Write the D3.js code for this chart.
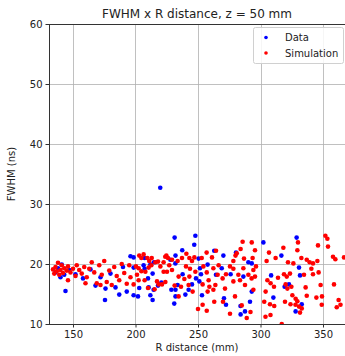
<!DOCTYPE html>
<html>
<head>
<meta charset="utf-8">
<script src="https://cdn.jsdelivr.net/npm/d3@7"></script>
<style>
  html, body { margin: 0; padding: 0; background: #fff; }
  svg { display: block; font-family: "DejaVu Sans", sans-serif; }
</style>
</head>
<body>
<svg id="chart" width="345" height="356"></svg>
<script>
const titleText = "FWHM x R distance, z = 50 mm";
const xLabel = "R distance (mm)";
const yLabel = "FWHM (ns)";
const xTicks = [150, 200, 250, 300, 350];
const yTicks = [10, 20, 30, 40, 50, 60];
const xDomain = [130.8, 367.6];
const yDomain = [10, 60];
const seriesNames = ["Data", "Simulation"];
const seriesColors = ["#0000ff", "#ff0000"];

// Data (blue) : [R distance, FWHM]
const dataPoints = [
  [136,18.6],[138,19.3],[140,17.8],[141,19.9],[143,18.2],[144,15.5],[147,19],[152,18.3],[158,17.6],[164,19.1],
  [168,16.4],[172,17.8],[175.6,14],[176,15.9],[180,18.4],[184,16.1],[187,14.9],[190,19.5],[193,15.4],[196,21.3],
  [219.8,32.7],[231.3,24.4],[198.5,21.1],[207.3,21.0],[211.9,19.9],[214.8,20.3],[227.9,20.7],[232,21.4],[231.9,20.1],
  [198.5,19.4],[206.5,19.8],[207.3,19.2],[213.7,18.4],[210,17.6],[203,16],[210.5,16.1],[214.5,15.7],[218,16.4],
  [220.7,16.9],[228.7,15.7],[232,15.7],[198.5,14.8],[202,14.6],[211.9,14.8],[213.7,14],[232,14.6],[231,13.4],
  [247.9,24.7],[247,23.2],[237.4,22.3],[250.5,20.9],[251.6,19.3],[257.7,19.9],[248.4,17.6],[252.4,18.3],[237.7,18.3],
  [245.2,16.6],[251.1,17.1],[239.9,14.9],[242.5,15.7],[253.2,14.8],[233.7,16.5],[264.4,18.2],[263,22.2],
  [270.3,21.4],[290.3,20.3],[293,20.1],[269,19.3],[276.1,18.3],[286.3,17.9],[270.8,14.3],[272.4,13.2],[293,15.4],
  [291.6,13.7],[284.1,11.6],[287.6,12.1],[302.3,23.6],[280.4,21.9],[284,13],
  [328.9,24.4],[316.7,21.4],[330.8,19.4],[331.6,18.1],[308.5,18.1],[319.3,16.2],[322.8,16.6],[310.3,14.4],[328.1,12.1],[333,13.3]
];

// Simulation (red) : [R distance, FWHM]
const simPoints = [
  [134,19.1],[135,18.4],[136,19.5],[137,18.8],[138,20.2],[139,18.2],[140,19],[141,19.8],[142,18.5],[143,19.3],
  [145,18.9],[146,19.6],[146,17.3],[148,18.6],[150,19.2],[152,18],[153,19.8],[155,19],[157,18.4],[159,19.5],
  [160,16.8],[161,17.8],[163,19.2],[165,20.3],[167,18.6],[169,16.8],[171,19.8],[172,16.5],[173,18.2],[175,20.5],
  [177,17],[179,18.9],[181,16.5],[183,19.5],[185,18],[187,17.3],[189,20],[191,18.5],[193,16.7],[195,19.8],[196,17.8],
  [203,21.4],[204.7,21],[206.5,21.6],[209.5,21],[211,20.5],[213,21],[215.9,20.3],[218,20.4],[222.5,20.3],[224.7,21.4],
  [226,21],[227,19.8],[229.2,20.7],[200.4,19.6],[202.5,19.3],[204.7,18.8],[201.2,18.2],[207.9,18.7],[210.5,19.4],
  [212.7,19.8],[219.9,19.6],[222.5,18.7],[225.2,18.7],[229.2,19],[198.5,16.6],[202.5,17.3],[207.3,17.3],[210,16],
  [217.2,17.1],[218.5,16.6],[221.2,16.6],[223.9,17],[231.3,16.4],[215.3,15.8],[223.8,21.2],
  [240.7,21.7],[253,21],[237.2,21],[243.1,21],[233.7,20.5],[245.2,20.5],[247.1,21.1],[256.9,21.9],[261.2,21.1],
  [264.4,22.2],[240.4,19.6],[243.6,19.2],[247.9,18.7],[254.3,19.6],[257,18.6],[262.3,19.3],[265.7,18.2],[234.5,17.9],
  [239.1,17.5],[243.1,17.9],[236.4,16.2],[242.5,16.5],[245.7,15.4],[253.7,16.6],[258.5,17.3],[259.1,16.2],[263.9,16.5],
  [234.5,14.6],[257.7,15.4],[262.3,15.7],[266.5,19.8],
  [285.7,23.7],[293,23.6],[284.1,22.5],[295.6,22.3],[281,21.8],[280,21.4],[293.7,21],[278.3,20.5],[286.8,20.9],
  [275.6,19.6],[278.3,19.2],[286.3,19.3],[294.3,19],[296.4,19.6],[272.4,18.3],[282.3,18.2],[290.3,18.2],[292.9,17.6],
  [269.7,17.6],[278.3,17.1],[283.6,17.3],[287.6,16.5],[295.6,17.9],[271.6,15.9],[279.6,14.6],[294.3,15.7],
  [306.8,21.9],[318.3,22.7],[329.5,22.3],[330,23.6],[304.9,20.5],[312.1,21],[322,20.3],[326.3,20.1],[332.7,21],
  [337,20.7],[314,17.7],[318.8,18.3],[321,17.9],[323.6,18.4],[320.1,16.6],[321.5,15.9],[305.5,17.3],[308.1,16.8],
  [310.8,16.2],[304.1,15.4],[325.5,14.8],[328.1,14.2],[336.1,16.1],[337,14.7],[324.7,16.2],[334.8,18.2],
  [351.9,24.7],[353.5,24.2],[346,23.1],[354,22.9],[358,21.2],[359.9,20.8],[366.8,21.1],[345.5,20.5],[342,20.1],
  [339.3,20.3],[340.7,19.2],[342,18.3],[346.5,18.6],[348.1,16.5],[358.8,16.6],[344.7,14.4],[349.2,14.6],[362.5,14],
  [250,12.5],[253.7,13.2],[257,12.2],[263,13.7],[270,13.7],[275.6,11.7],[285,13.1],[289,11],[292,12],[303,13.7],
  [304,11.2],[307.6,13.3],[308,11.5],[311,13],[317,10],[319.6,13.7],[324,13.3],[328,13.2],[330.8,12.9],[331.6,11.9],
  [333,12.6],[349,13.2],[361,12.8],[364,13.2],[329.5,13.8]
];

const svg = d3.select("#chart");
const L = 49, R = 345, T = 24, B = 324;
const x = d3.scaleLinear().domain(xDomain).range([L, R]);
const y = d3.scaleLinear().domain(yDomain).range([B, T]);

// clip
svg.append("defs").append("clipPath").attr("id", "clip")
  .append("rect").attr("x", L).attr("y", T - 3).attr("width", R - L).attr("height", B - T + 3);

// grid
const grid = svg.append("g");
grid.selectAll(".gx").data(xTicks).join("line")
  .attr("x1", d => Math.round(x(d)) + 0.5).attr("x2", d => Math.round(x(d)) + 0.5)
  .attr("y1", T).attr("y2", B).attr("stroke", "#b0b0b0").attr("stroke-width", 0.8);
grid.selectAll(".gy").data(yTicks).join("line")
  .attr("y1", d => Math.round(y(d)) + 0.5).attr("y2", d => Math.round(y(d)) + 0.5)
  .attr("x1", L).attr("x2", R).attr("stroke", "#b0b0b0").attr("stroke-width", 0.8);

// axes
const xAxis = d3.axisBottom(x).tickValues(xTicks).tickSize(3.5).tickPadding(3).tickFormat(d3.format("d"));
const yAxis = d3.axisLeft(y).tickValues(yTicks).tickSize(3.5).tickPadding(3).tickFormat(d3.format("d"));
const gx = svg.append("g").attr("transform", `translate(0,${B})`).call(xAxis);
const gy = svg.append("g").attr("transform", `translate(${L},0)`).call(yAxis);
[gx, gy].forEach(g => {
  g.select(".domain").remove();
  g.selectAll("line").attr("stroke", "#333");
  g.selectAll("text").attr("fill", "#222").style("font-size", "10px").style("font-family", "DejaVu Sans");
});

// points
const pts = svg.append("g").attr("clip-path", "url(#clip)");
pts.selectAll(".d").data(dataPoints).join("circle")
  .attr("cx", d => x(d[0])).attr("cy", d => y(d[1])).attr("r", 2.3).attr("fill", seriesColors[0]);
pts.selectAll(".s").data(simPoints).join("circle")
  .attr("cx", d => x(d[0])).attr("cy", d => y(d[1])).attr("r", 2.3).attr("fill", seriesColors[1]);

// spines
svg.append("line").attr("x1", L + 0.5).attr("x2", L + 0.5).attr("y1", T).attr("y2", B + 0.5).attr("stroke", "#333").attr("stroke-width", 1);
svg.append("line").attr("x1", L).attr("x2", R).attr("y1", B + 0.5).attr("y2", B + 0.5).attr("stroke", "#333").attr("stroke-width", 1);
svg.append("line").attr("x1", L).attr("x2", R).attr("y1", T + 0.5).attr("y2", T + 0.5).attr("stroke", "#333").attr("stroke-width", 1);

// title and labels
svg.append("text").attr("x", 197).attr("y", 18).attr("text-anchor", "middle")
  .style("font-size", "12px").attr("fill", "#222").text(titleText);
svg.append("text").attr("x", 197).attr("y", 351).attr("text-anchor", "middle")
  .style("font-size", "10px").attr("fill", "#222").text(xLabel);
svg.append("text").attr("transform", "translate(15,174) rotate(-90)").attr("text-anchor", "middle")
  .style("font-size", "10px").attr("fill", "#222").text(yLabel);

// legend
const lg = svg.append("g");
lg.append("rect").attr("x", 253.5).attr("y", 27.5).attr("width", 90).attr("height", 36).attr("rx", 2)
  .attr("fill", "#fff").attr("fill-opacity", 0.85).attr("stroke", "#d0d0d0").attr("stroke-width", 1);
seriesNames.forEach((n, i) => {
  lg.append("circle").attr("cx", 266).attr("cy", 37.5 + i * 15.5).attr("r", 1.8).attr("fill", seriesColors[i]);
  lg.append("text").attr("x", 285).attr("y", 41 + i * 15.5).style("font-size", "10px").attr("fill", "#222").text(n);
});
</script>
</body>
</html>
